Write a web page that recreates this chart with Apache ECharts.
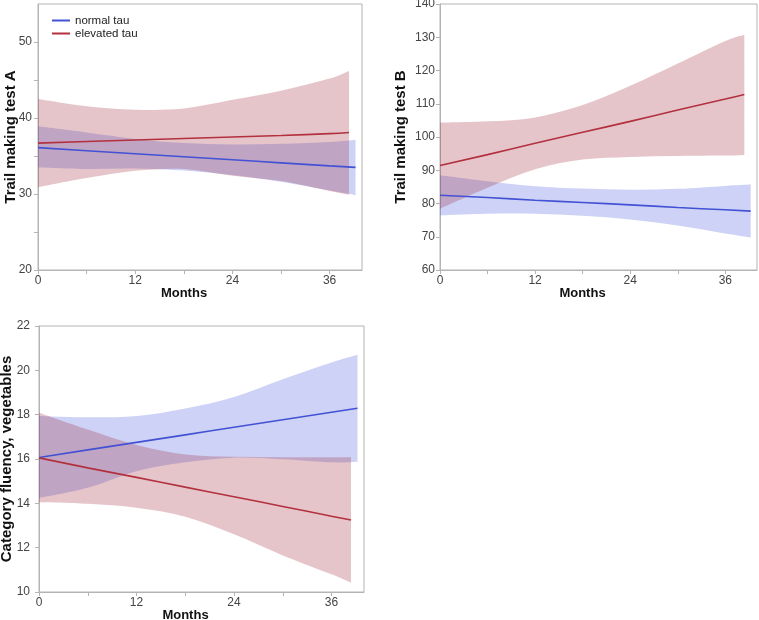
<!DOCTYPE html>
<html>
<head>
<meta charset="utf-8">
<script src="https://cdn.jsdelivr.net/npm/echarts@6/dist/echarts.min.js"></script>
<style>
  html, body { margin: 0; padding: 0; background: #fff; }
  #chart { width: 759px; height: 620px; }
</style>
</head>
<body>
<div id="chart"></div>
<script>
// x positions (months) where the fitted lines / bands were read
const monthsNormal = [0, 6, 12, 18, 24, 30, 36, 39.2]
const monthsElevated = [0, 6, 12, 18, 24, 30, 36, 38.4]
const xTicks = [0, 6, 12, 18, 24, 30, 36]
const xLabels = [0, 12, 24, 36]

// Trail making test A
const tmtANormal = [36.1, 35.7, 35.3, 34.9, 34.5, 34.1, 33.7, 33.5]
const tmtANormalUp = [38.9, 38.1, 37.25, 36.7, 36.5, 36.6, 36.85, 37.15]
const tmtANormalLo = [33.5, 33.3, 33.35, 33.1, 32.5, 31.6, 30.45, 29.85]
const tmtAElevated = [36.7, 36.9, 37.1, 37.3, 37.5, 37.7, 37.95, 38.1]
const tmtAElevatedUp = [42.5, 41.55, 41.1, 41.25, 42.4, 43.6, 45.2, 46.2]
const tmtAElevatedLo = [30.9, 32.1, 33.05, 33.3, 32.4, 31.7, 30.4, 29.9]

// Trail making test B
const tmtBNormal = [82.5, 81.8, 81.0, 80.3, 79.6, 78.8, 78.1, 77.7]
const tmtBNormalUp = [88.5, 86.7, 85.2, 84.5, 84.1, 84.4, 85.3, 85.7]
const tmtBNormalLo = [76.4, 76.9, 76.9, 76.3, 75.2, 73.4, 71.0, 69.8]
const tmtBElevated = [91.4, 94.7, 98.1, 101.4, 104.7, 108.1, 111.4, 112.8]
const tmtBElevatedUp = [104.3, 104.7, 105.9, 109.6, 115.4, 122.1, 128.9, 130.7]
const tmtBElevatedLo = [78.4, 84.7, 90.3, 93.2, 94.0, 94.3, 94.4, 94.6]

// Category fluency, vegetables
const cfNormal = [16.07, 16.41, 16.75, 17.09, 17.43, 17.77, 18.11, 18.29]
const cfNormalUp = [17.94, 17.88, 17.94, 18.28, 18.8, 19.6, 20.35, 20.7]
const cfNormalLo = [14.24, 14.7, 15.45, 15.85, 16.06, 15.99, 15.85, 15.88]
const cfElevated = [16.05, 15.6, 15.17, 14.73, 14.3, 13.86, 13.42, 13.25]
const cfElevatedUp = [18.09, 17.33, 16.63, 16.2, 16.1, 16.08, 16.08, 16.08]
const cfElevatedLo = [14.05, 13.98, 13.8, 13.4, 12.6, 11.65, 10.8, 10.42]

const blue = '#4352d4'
const red = '#b3313f'
const blueBand = 'rgba(70,90,220,0.27)'
const redBand = 'rgba(160,40,60,0.27)'
const axisGray = '#b4b4b4'
const font = 'Liberation Sans, Arial, sans-serif'

const chart = echarts.init(document.getElementById('chart'))

const pair = (xs, ys) => xs.map((x, i) => [x, ys[i]])

// smooth curve through pixel points (catmull-rom as cubic beziers)
function curve(pts) {
  let d = ''
  for (let i = 0; i < pts.length - 1; i++) {
    const p0 = pts[i - 1] || pts[i]
    const p1 = pts[i]
    const p2 = pts[i + 1]
    const p3 = pts[i + 2] || pts[i + 1]
    const c1 = [p1[0] + (p2[0] - p0[0]) / 6, p1[1] + (p2[1] - p0[1]) / 6]
    const c2 = [p2[0] - (p3[0] - p1[0]) / 6, p2[1] - (p3[1] - p1[1]) / 6]
    d += ' C' + c1.join(' ') + ' ' + c2.join(' ') + ' ' + p2.join(' ')
  }
  return d
}

// confidence band drawn as one filled shape between the lower and upper arrays
function band(idx, xs, lo, up, color) {
  return {
    type: 'custom', xAxisIndex: idx, yAxisIndex: idx, z: 1, silent: true, clip: true,
    data: [[xs[0], lo[0]]],
    renderItem: (params, api) => {
      const top = xs.map((x, i) => api.coord([x, up[i]]))
      const bot = xs.map((x, i) => api.coord([x, lo[i]])).reverse()
      const d = 'M' + top[0].join(' ') + curve(top) +
        ' L' + bot[0].join(' ') + curve(bot) + ' Z'
      return { type: 'path', shape: { pathData: d }, style: { fill: color } }
    }
  }
}

function fit(idx, name, xs, ys, color) {
  return {
    type: 'line', name: name, xAxisIndex: idx, yAxisIndex: idx,
    data: pair(xs, ys), symbol: 'none', smooth: true, z: 3,
    itemStyle: { color: color },
    lineStyle: { color: color, width: 1.6 }
  }
}

const grids = [
  { left: 38, top: 4, width: 324, height: 266 },
  { left: 440, top: 4, width: 317, height: 266 },
  { left: 39, top: 326, width: 325, height: 266 }
]

const yDefs = [
  { name: 'Trail making test A', min: 20, max: 55, interval: 10, labels: [20, 30, 40, 50], ticks: [20, 25, 30, 35, 40, 45, 50], gap: 20, margin: 6 },
  { name: 'Trail making test B', min: 60, max: 140, interval: 10, gap: 32, margin: 5 },
  { name: 'Category fluency, vegetables', min: 10, max: 22, interval: 2, gap: 25, margin: 9 }
]

const option = {
  animation: false,
  textStyle: { fontFamily: font },
  legend: {
    left: 52, top: 14, padding: 0, orient: 'vertical', itemGap: 0,
    itemWidth: 18, itemHeight: 2,
    textStyle: { fontSize: 11.5, color: '#222', lineHeight: 13, fontFamily: font },
    data: [
      { name: 'normal tau', icon: 'rect' },
      { name: 'elevated tau', icon: 'rect' }
    ]
  },
  grid: grids.map(g => Object.assign({
    show: true, borderColor: axisGray, borderWidth: 1, outerBoundsMode: 'none', containLabel: false
  }, g)),
  xAxis: grids.map((g, i) => ({
    type: 'value', gridIndex: i, min: 0, max: 40, interval: 12,
    name: 'Months', nameLocation: 'middle', nameGap: 17, nameMoveOverlap: false,
    nameTextStyle: { fontWeight: 'bold', fontSize: 13, color: '#111', padding: [0, 32, 0, 0] },
    axisLine: { lineStyle: { color: axisGray } },
    axisTick: { customValues: xTicks, length: 4, lineStyle: { color: axisGray } },
    axisLabel: { customValues: xLabels, color: '#444', fontSize: 12, margin: 5 },
    splitLine: { show: false }
  })),
  yAxis: yDefs.map((d, i) => ({
    type: 'value', gridIndex: i, min: d.min, max: d.max, interval: d.interval,
    name: d.name, nameLocation: 'middle', nameRotate: 90, nameGap: d.gap, nameMoveOverlap: false,
    nameTextStyle: { fontWeight: 'bold', fontSize: 15, color: '#111' },
    axisLine: { show: true, lineStyle: { color: axisGray } },
    axisTick: Object.assign({ length: 4, lineStyle: { color: axisGray } }, d.ticks ? { customValues: d.ticks } : {}),
    axisLabel: Object.assign({ color: '#444', fontSize: 12, margin: d.margin }, d.labels ? { customValues: d.labels } : {}),
    splitLine: { show: false }
  })),
  series: [
    band(0, monthsNormal, tmtANormalLo, tmtANormalUp, blueBand),
    band(0, monthsElevated, tmtAElevatedLo, tmtAElevatedUp, redBand),
    fit(0, 'normal tau', monthsNormal, tmtANormal, blue),
    fit(0, 'elevated tau', monthsElevated, tmtAElevated, red),

    band(1, monthsNormal, tmtBNormalLo, tmtBNormalUp, blueBand),
    band(1, monthsElevated, tmtBElevatedLo, tmtBElevatedUp, redBand),
    fit(1, 'normal tau', monthsNormal, tmtBNormal, blue),
    fit(1, 'elevated tau', monthsElevated, tmtBElevated, red),

    band(2, monthsNormal, cfNormalLo, cfNormalUp, blueBand),
    band(2, monthsElevated, cfElevatedLo, cfElevatedUp, redBand),
    fit(2, 'normal tau', monthsNormal, cfNormal, blue),
    fit(2, 'elevated tau', monthsElevated, cfElevated, red)
  ]
}

chart.setOption(option)
window.addEventListener('resize', () => {
  chart.resize()
})
</script>
</body>
</html>
